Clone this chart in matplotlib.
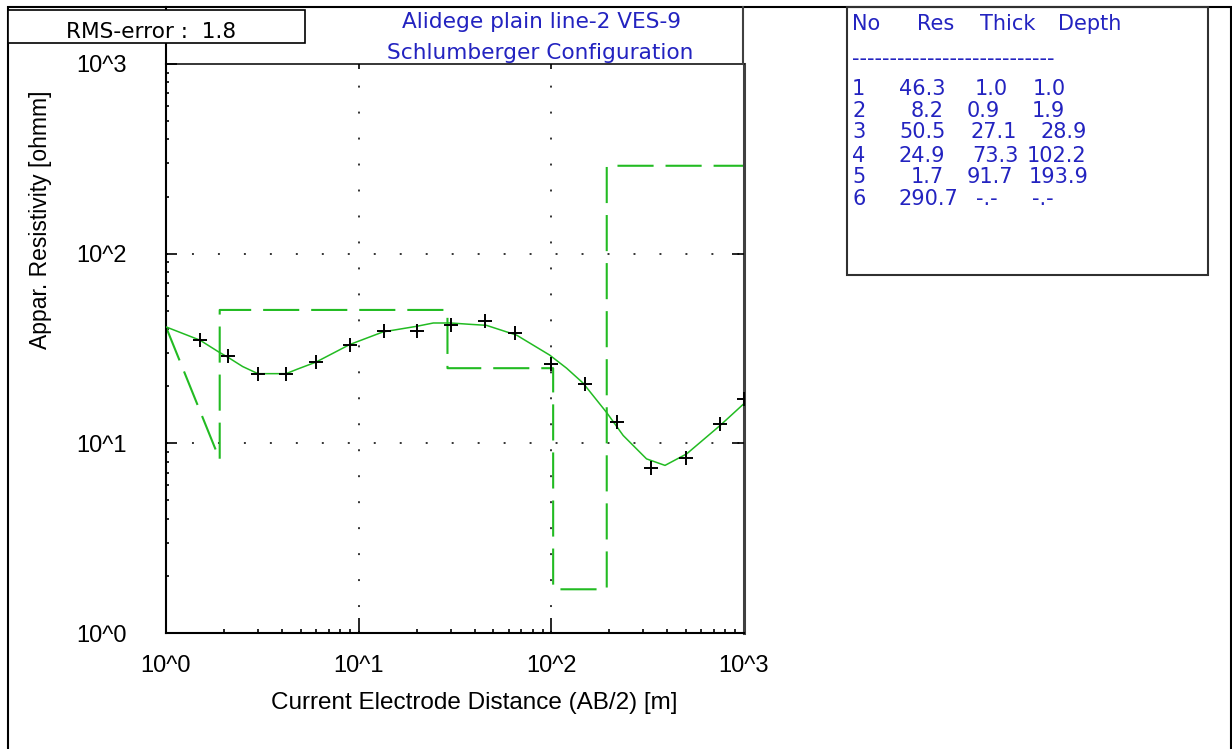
import matplotlib
matplotlib.use("Agg")
import matplotlib.pyplot as plt
from matplotlib.lines import Line2D
from matplotlib.patches import Rectangle
from matplotlib.ticker import LogLocator, NullFormatter, NullLocator

plt.rcParams["font.family"] = ["Liberation Sans", "DejaVu Sans"]
plt.rcParams["lines.scale_dashes"] = False

# field readings, AB/2 [m] and apparent resistivity [ohmm]
ab2 = [1.5, 2.1, 3.0, 4.2, 6.0, 9.0, 13.5, 20, 30, 45, 65, 100,
       150, 220, 330, 500, 750, 1000]
rho_a = [34.9, 28.8, 23.2, 23.2, 26.8, 32.8, 38.9, 38.9, 42.3, 44.3, 38.4, 26.2,
         20.6, 13.0, 7.41, 8.35, 12.6, 17.2]

# response of the fitted model
fit_ab2 = [1.0, 1.5, 1.87, 2.1, 2.5, 3.0, 4.2, 4.8, 6.0, 9.0, 13.4, 20, 24.4,
           30, 38, 46, 66, 98, 120, 146, 194, 236, 312, 389, 504, 750, 1000]
fit_rho = [41.1, 35.0, 30.4, 28.4, 25.4, 23.3, 23.3, 24.6, 26.8, 33.2, 38.7, 41.4,
           43.1, 43.1, 42.4, 41.9, 37.2, 29.2, 24.9, 20.8, 14.5, 11.0, 8.28, 7.65,
           8.80, 12.4, 16.2]

# layered model
layer_no = [1, 2, 3, 4, 5, 6]
layer_res = [46.3, 8.2, 50.5, 24.9, 1.7, 290.7]
layer_thick = [1.0, 0.9, 27.1, 73.3, 91.7, None]
layer_depth = [1.0, 1.9, 28.9, 102.2, 193.9, None]

rms_error = 1.8
title_lines = ["Alidege plain line-2 VES-9", "Schlumberger Configuration"]
decades = [1, 10, 100, 1000]
decade_labels = ["10^0", "10^1", "10^2", "10^3"]

W, H = 1232, 749
GREEN = "#22bb22"
BLUE = "#2323c0"
WIDE = ["DejaVu Sans"]   # the header texts use a wider face than the axes


def fx(px):
    return px / W


def fy(py):
    return 1 - py / H


fig = plt.figure(figsize=(W / 100, H / 100), dpi=100)
fig.patch.set_facecolor("white")


def ftext(px, py, s, **kw):
    kw.setdefault("fontsize", 15.5)
    kw.setdefault("va", "baseline")
    kw.setdefault("zorder", 6)
    fig.text(fx(px), fy(py), s, **kw)


def fline(xs, ys, **kw):
    fig.add_artist(Line2D([fx(x) for x in xs], [fy(y) for y in ys],
                          transform=fig.transFigure, **kw))


def fbox(x0, y0, x1, y1, **kw):
    kw.setdefault("fill", False)
    fig.add_artist(Rectangle((fx(x0), fy(y1)), fx(x1) - fx(x0), fy(y0) - fy(y1),
                             transform=fig.transFigure, **kw))


ax = fig.add_axes([fx(166), fy(633), fx(744) - fx(166), fy(64) - fy(633)])
ax.set_xscale("log")
ax.set_yscale("log")
ax.set_xlim(1, 1000)
ax.set_ylim(1, 1000)

# sparse dotted grid at the inner decades
for d in decades[1:3]:
    ax.axvline(d, color="#333333", lw=1.4, dashes=(1.4, 17.3), zorder=1)
    ax.axhline(d, color="#333333", lw=1.4, dashes=(1.4, 17.3), zorder=1)

# model as a dashed step line
model_x = [layer_depth[0]]
model_y = [fit_rho[0]]
for i in range(1, 5):
    model_x += [layer_depth[i], layer_depth[i]]
    model_y += [layer_res[i], layer_res[i + 1]]
model_x.append(1000)
model_y.append(layer_res[-1])
ax.plot(model_x, model_y, color=GREEN, lw=1.5, dashes=(26, 8.6),
        solid_joinstyle="miter", zorder=2)

ax.plot(fit_ab2, fit_rho, color=GREEN, lw=1.1, zorder=3)
ax.plot(ab2, rho_a, ls="none", marker="+", ms=10, mew=1.4, color="black", zorder=4)

ax.set_xticks(decades, decade_labels)
ax.set_yticks(decades, decade_labels)
ax.xaxis.set_minor_locator(LogLocator(base=10, subs=range(2, 10)))
ax.yaxis.set_minor_locator(LogLocator(base=10, subs=range(2, 10)))
ax.xaxis.set_minor_formatter(NullFormatter())
ax.yaxis.set_minor_formatter(NullFormatter())
ax.tick_params(axis="x", which="major", direction="in", length=11, width=1.2,
               pad=15.5, labelsize=17)
ax.tick_params(axis="x", which="minor", direction="in", length=3, width=1.2)
ax.tick_params(axis="y", which="major", direction="in", length=8, width=1.2,
               pad=28.5, labelsize=17)
ax.tick_params(axis="y", which="minor", direction="in", length=2.5, width=1.2)

ax.spines["left"].set_linewidth(1.5)
ax.spines["bottom"].set_linewidth(1.5)
ax.spines["top"].set_linewidth(1.1)
ax.spines["right"].set_linewidth(2.2)
ax.spines["right"].set_color("#404040")

# right and top ticks: majors only, different lengths
axr = ax.twinx()
axr.set_yscale("log")
axr.set_ylim(1, 1000)
axr.set_yticks([10, 100])
axr.yaxis.set_minor_locator(NullLocator())
axr.tick_params(axis="y", direction="in", length=9, width=1.2, labelright=False)
axt = ax.twiny()
axt.set_xscale("log")
axt.set_xlim(1, 1000)
axt.set_xticks([10, 100])
axt.xaxis.set_minor_locator(NullLocator())
axt.tick_params(axis="x", direction="in", length=3.6, width=1.2, labeltop=False)
for a in (axr, axt):
    for s in a.spines.values():
        s.set_visible(False)

# outer frame and the rules above the plot
fbox(8, 7, 1231, 760, lw=1.5, edgecolor="black")
fline([166, 166], [7, 64], color="black", lw=1.5)
fline([743, 743], [7, 64], color="#404040", lw=1.5)

# RMS box, opaque so it covers the rule behind it
fbox(8, 10, 305, 43, lw=1.2, edgecolor="black", fill=True,
     facecolor="white", zorder=5)
ftext(66, 38, f"RMS-error :  {rms_error}", family=WIDE, fontsize=15.6)

# title
ftext(541, 28, title_lines[0], ha="center", color=BLUE, family=WIDE, fontsize=15.6)
ftext(540, 59, title_lines[1], ha="center", color=BLUE, family=WIDE, fontsize=15.6)

# axis titles
ftext(474, 709, "Current Electrode Distance (AB/2) [m]", ha="center", fontsize=17.5)
fig.text(fx(41), fy(220), "Appar. Resistivity [ohmm]", rotation=90,
         ha="center", va="center", fontsize=16.5)

# layer table
TFS = 15
fbox(847, 7, 1208, 275, lw=1.5, edgecolor="#303030")
for hx, h in zip([852, 917, 980, 1058], ["No", "Res", "Thick", "Depth"]):
    ftext(hx, 30, h, color=BLUE, family=WIDE, fontsize=TFS)
ftext(852, 65, "-" * 27, color=BLUE, family=WIDE, fontsize=TFS)

row_y = [95, 117, 138.5, 161.5, 183, 205]
res_x = [899, 911, 899, 899, 911, 899]
thick_x = [975, 967, 971, 972, 967, 976]
depth_x = [1033, 1032, 1041, 1027, 1029, 1032]


def fmt(v):
    return "-.-" if v is None else f"{v:.1f}"


for i, n in enumerate(layer_no):
    kw = dict(color=BLUE, family=WIDE, fontsize=TFS)
    ftext(852, row_y[i], str(n), **kw)
    ftext(res_x[i], row_y[i], fmt(layer_res[i]), **kw)
    ftext(thick_x[i], row_y[i], fmt(layer_thick[i]), **kw)
    ftext(depth_x[i], row_y[i], fmt(layer_depth[i]), **kw)

fig.savefig("out.png", dpi=100, facecolor="white")
